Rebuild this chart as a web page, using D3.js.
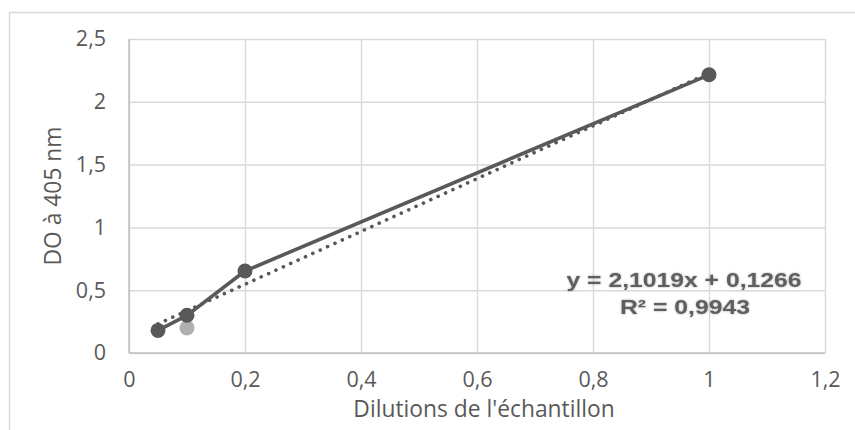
<!DOCTYPE html>
<html>
<head>
<meta charset="utf-8">
<script src="https://cdn.jsdelivr.net/npm/d3@7"></script>
<style>
  html, body { margin: 0; padding: 0; background: #fff; }
  svg { display: block; }
  .tick text { font-family: "Open Sans", Lato, sans-serif; fill: #595959; }
</style>
</head>
<body>
<div id="chart"></div>
<script>
// values
const dilutions = [0.05, 0.1, 0.2, 1];
const absorbance = [0.18, 0.30, 0.653, 2.215];
const outlierX = [0.1];
const outlierY = [0.2];
const trendSlope = 2.1019;
const trendIntercept = 0.1266;
const r2Label = "R² = 0,9943";
const eqLabel = "y = 2,1019x + 0,1266";
const xTicks = [0, 0.2, 0.4, 0.6, 0.8, 1, 1.2];
const yTicks = [0, 0.5, 1, 1.5, 2, 2.5];

const W = 855, H = 430;
const margin = { top: 39, right: 30, bottom: 77, left: 129 };
const width = 825 - margin.left, height = 353 - margin.top;
const font = "'Open Sans', Lato, sans-serif";

const svg = d3.select("#chart").append("svg")
  .attr("width", W).attr("height", H);

const defs = svg.append("defs");
const blur = defs.append("filter").attr("id", "soft")
  .attr("x", "-10%").attr("y", "-30%").attr("width", "120%").attr("height", "160%");
blur.append("feGaussianBlur").attr("in", "SourceAlpha").attr("stdDeviation", 1.2).attr("result", "b");
blur.append("feComponentTransfer").attr("in", "b").attr("result", "s")
  .append("feFuncA").attr("type", "linear").attr("slope", 0.35);
const mrg = blur.append("feMerge");
mrg.append("feMergeNode").attr("in", "s");
mrg.append("feMergeNode").attr("in", "SourceGraphic");

// chart area border (partly off-screen)
svg.append("path")
  .attr("d", `M9.5,${H} V12.5 H${W}`)
  .attr("fill", "none").attr("stroke", "#d9d9d9").attr("stroke-width", 1.3);

const fmt = d => String(d).replace(".", ",");

const x = d3.scaleLinear().domain([0, 1.2]).range([0, width]);
const y = d3.scaleLinear().domain([0, 2.5]).range([height, 0]);

const g = svg.append("g").attr("transform", `translate(${margin.left},${margin.top})`);

// gridlines
g.append("g")
  .call(d3.axisLeft(y).tickValues(yTicks).tickSize(-width).tickFormat(""))
  .call(a => a.select(".domain").remove())
  .call(a => a.selectAll("line").attr("stroke", "#d9d9d9").attr("stroke-width", 1.5));
g.append("g")
  .call(d3.axisBottom(x).tickValues(xTicks).tickSize(height).tickFormat(""))
  .call(a => a.select(".domain").remove())
  .call(a => a.selectAll("line").attr("stroke", "#d9d9d9").attr("stroke-width", 1.5));

// axis lines
g.append("line").attr("x1", 0).attr("x2", 0).attr("y1", 0).attr("y2", height)
  .attr("stroke", "#bfbfbf").attr("stroke-width", 1.5);
g.append("line").attr("x1", 0).attr("x2", width).attr("y1", height).attr("y2", height)
  .attr("stroke", "#bfbfbf").attr("stroke-width", 1.5);

// tick labels
g.append("g")
  .call(d3.axisLeft(y).tickValues(yTicks).tickSize(0).tickPadding(23).tickFormat(fmt))
  .call(a => a.select(".domain").remove())
  .call(a => a.selectAll("text").style("font-size", "21.5px"));
g.append("g")
  .attr("transform", `translate(0,${height})`)
  .call(d3.axisBottom(x).tickValues(xTicks).tickSize(0).tickPadding(19).tickFormat(fmt))
  .call(a => a.select(".domain").remove())
  .call(a => a.selectAll("text").style("font-size", "21.5px"));

// axis titles
svg.append("text")
  .attr("x", 484).attr("y", 417)
  .attr("text-anchor", "middle")
  .style("font-family", font).style("font-size", "22.8px")
  .attr("fill", "#595959")
  .text("Dilutions de l'échantillon");
svg.append("text")
  .attr("transform", `translate(61,${margin.top + height / 2}) rotate(-90)`)
  .attr("text-anchor", "middle")
  .style("font-family", font).style("font-size", "22.8px")
  .attr("fill", "#595959")
  .text("DO à 405 nm");

// trend line
const tx = d3.extent(dilutions);
g.append("line")
  .attr("x1", x(tx[0])).attr("y1", y(trendSlope * tx[0] + trendIntercept))
  .attr("x2", x(tx[1])).attr("y2", y(trendSlope * tx[1] + trendIntercept))
  .attr("stroke", "#595959").attr("stroke-width", 3.6)
  .attr("stroke-linecap", "round").attr("stroke-dasharray", "0.1 8");

// outlier point
g.selectAll(".out").data(outlierX).join("circle")
  .attr("class", "out")
  .attr("cx", d => x(d)).attr("cy", (d, i) => y(outlierY[i]))
  .attr("r", 7.5).attr("fill", "#b0b0b0");

// series
const pts = dilutions.map((d, i) => [d, absorbance[i]]);
g.append("path")
  .datum(pts)
  .attr("fill", "none").attr("stroke", "#595959").attr("stroke-width", 3.6)
  .attr("stroke-linejoin", "round")
  .attr("d", d3.line().x(d => x(d[0])).y(d => y(d[1])));
g.selectAll(".pt").data(pts).join("circle")
  .attr("class", "pt")
  .attr("cx", d => x(d[0])).attr("cy", d => y(d[1]))
  .attr("r", 7.5).attr("fill", "#595959");

// equation label
const eq = svg.append("g").attr("filter", "url(#soft)")
  .style("font-family", "'Liberation Sans', Arial, sans-serif")
  .style("font-weight", "bold").style("font-size", "21px").attr("fill", "#5f5f5f");
eq.append("text").attr("x", 684).attr("y", 287).attr("text-anchor", "middle")
  .attr("textLength", 235).attr("lengthAdjust", "spacingAndGlyphs").text(eqLabel);
eq.append("text").attr("x", 685).attr("y", 314).attr("text-anchor", "middle")
  .attr("textLength", 130).attr("lengthAdjust", "spacingAndGlyphs").text(r2Label);
</script>
</body>
</html>
